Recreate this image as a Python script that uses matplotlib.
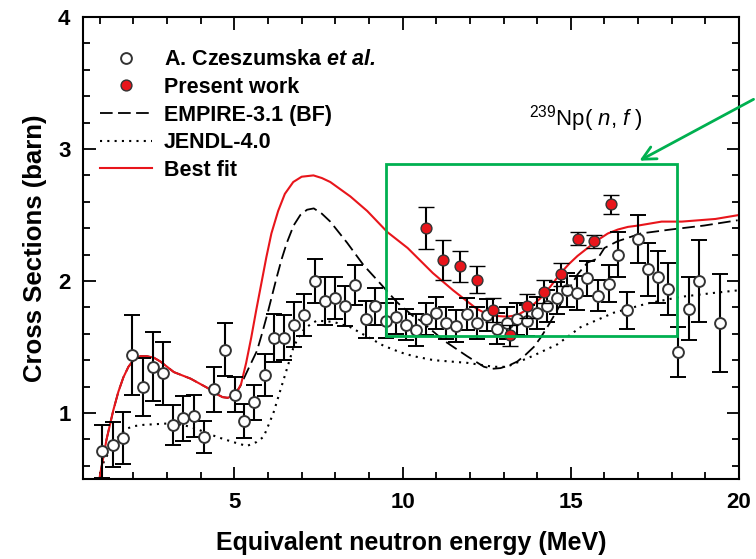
import numpy as np
import matplotlib
matplotlib.use("Agg")
import matplotlib.pyplot as plt
from matplotlib.lines import Line2D
from matplotlib.patches import Rectangle, FancyArrowPatch

plt.rcParams['font.family'] = ['Liberation Sans', 'DejaVu Sans']
plt.rcParams['mathtext.fontset'] = 'custom'
plt.rcParams['mathtext.rm'] = 'Liberation Sans'
plt.rcParams['mathtext.it'] = 'Liberation Sans:italic'
plt.rcParams['mathtext.bf'] = 'Liberation Sans:bold'
plt.rcParams['mathtext.bfit'] = 'Liberation Sans:bold:italic'

# A. Czeszumska et al. (open circles)
cz_e = [1.07, 1.39, 1.69, 1.97, 2.29, 2.58, 2.88, 3.18, 3.48, 3.80, 4.09, 4.40, 4.72,
        5.01, 5.29, 5.59, 5.90, 6.18, 6.48, 6.78, 7.08, 7.40, 7.70, 8.00, 8.30, 8.60,
        8.90, 9.19, 9.50, 9.80, 10.10, 10.40, 10.70, 11.00, 11.30, 11.60, 11.90, 12.20,
        12.50, 12.80, 13.10, 13.40, 13.70, 14.00, 14.30, 14.60, 14.90, 15.19, 15.49,
        15.81, 16.13, 16.40, 16.68, 17.00, 17.29, 17.60, 17.90, 18.19, 18.51, 18.81, 19.43]
cz_xs = [0.71, 0.76, 0.81, 1.44, 1.20, 1.35, 1.30, 0.91, 0.96, 0.98, 0.82, 1.18, 1.48,
         1.14, 0.94, 1.08, 1.29, 1.57, 1.57, 1.67, 1.74, 2.00, 1.85, 1.87, 1.81, 1.97,
         1.71, 1.81, 1.70, 1.73, 1.67, 1.63, 1.71, 1.76, 1.68, 1.66, 1.75, 1.68,
         1.74, 1.64, 1.68, 1.71, 1.70, 1.76, 1.81, 1.87, 1.93, 1.91, 2.02,
         1.89, 1.98, 2.20, 1.78, 2.32, 2.09, 2.03, 1.94, 1.46, 1.79, 2.00, 1.68]
cz_err = [0.20, 0.17, 0.20, 0.30, 0.22, 0.26, 0.24, 0.15, 0.17, 0.16, 0.12, 0.17, 0.20,
          0.13, 0.13, 0.13, 0.16, 0.18, 0.17, 0.17, 0.16, 0.17, 0.18, 0.16, 0.15, 0.15,
          0.14, 0.14, 0.13, 0.13, 0.12, 0.12, 0.12, 0.12, 0.12, 0.12, 0.12, 0.12,
          0.12, 0.12, 0.12, 0.12, 0.12, 0.12, 0.12, 0.12, 0.13, 0.13, 0.13,
          0.12, 0.14, 0.17, 0.14, 0.18, 0.20, 0.20, 0.20, 0.19, 0.24, 0.31, 0.37]

# Present work (red points)
pw_e = [10.7, 11.2, 11.7, 12.2, 12.7, 13.2, 13.7, 14.2, 14.7, 15.2, 15.7, 16.2]
pw_xs = [2.40, 2.16, 2.11, 2.01, 1.78, 1.59, 1.81, 1.92, 2.05, 2.32, 2.30, 2.58]
pw_err = [0.16, 0.15, 0.12, 0.10, 0.09, 0.08, 0.09, 0.09, 0.09, 0.05, 0.05, 0.07]

# Best fit
fit_e = [1.0, 1.2, 1.4, 1.55, 1.7, 1.85, 2.0, 2.2, 2.4, 2.6, 2.8, 3.2, 3.7, 4.2, 4.5,
         4.65, 4.8, 4.95, 5.1, 5.2, 5.35, 5.5, 5.65, 5.8, 5.95, 6.1, 6.3, 6.5, 6.75,
         7.0, 7.35, 7.6, 7.85, 8.45, 8.95, 9.55, 10.15, 10.9, 11.5, 11.9, 12.2, 12.5,
         12.8, 13.1, 13.4, 13.75, 14.1, 14.4, 14.7, 14.95, 15.2, 15.5, 15.8, 16.1,
         16.4, 16.7, 17.0, 17.7, 18.3, 19.3, 20.0]
fit_xs = [0.52, 0.80, 1.02, 1.16, 1.27, 1.35, 1.40, 1.43, 1.43, 1.42, 1.39, 1.31, 1.26,
          1.19, 1.14, 1.12, 1.115, 1.13, 1.17, 1.22, 1.38, 1.57, 1.78, 1.98, 2.18,
          2.36, 2.53, 2.66, 2.75, 2.79, 2.80, 2.78, 2.75, 2.64, 2.53, 2.37, 2.25, 2.06,
          1.93, 1.85, 1.79, 1.75, 1.735, 1.73, 1.74, 1.79, 1.87, 1.96, 2.06, 2.13, 2.19,
          2.25, 2.31, 2.36, 2.39, 2.41, 2.42, 2.45, 2.45, 2.47, 2.50]

# EMPIRE-3.1 (BF)
emp_e = [5.0, 5.17, 5.37, 5.5, 5.67, 5.82, 5.97, 6.12, 6.26, 6.41, 6.56, 6.76, 6.96,
         7.16, 7.36, 7.6, 7.85, 8.35, 8.84, 9.34, 9.83, 10.33, 10.53, 11.22, 11.92,
         12.42, 12.67, 12.91, 13.16, 13.41, 13.65, 13.9, 14.1, 14.3, 14.6, 14.9, 15.2,
         15.5, 15.8, 16.0, 16.38, 17.08, 17.97, 18.96, 19.96]
emp_xs = [1.14, 1.20, 1.31, 1.38, 1.47, 1.60, 1.74, 1.89, 2.03, 2.17, 2.29, 2.42, 2.50,
          2.54, 2.55, 2.51, 2.45, 2.29, 2.12, 1.98, 1.84, 1.73, 1.70, 1.55, 1.43,
          1.35, 1.335, 1.34, 1.36, 1.39, 1.44, 1.50, 1.57, 1.65, 1.78, 1.92, 2.05,
          2.14, 2.17, 2.25, 2.30, 2.36, 2.39, 2.42, 2.46]

# JENDL-4.0
jen_e = [1.1, 1.3, 1.49, 1.65, 1.79, 2.0, 2.29, 2.98, 3.48, 3.87, 4.47, 4.96, 5.37,
         5.66, 5.87, 6.0, 6.16, 6.46, 6.76, 6.9, 7.06, 7.25, 7.45, 7.95, 8.45, 8.94,
         9.43, 9.93, 10.33, 10.93, 11.92, 12.71, 13.1, 13.85, 14.6, 15.29, 16.28,
         17.28, 18.27, 19.26, 20.0]
jen_xs = [0.62, 0.72, 0.80, 0.85, 0.88, 0.90, 0.91, 0.92, 0.91, 0.88, 0.82, 0.78, 0.75,
          0.78, 0.82, 0.90, 1.00, 1.25, 1.50, 1.57, 1.63, 1.67, 1.70, 1.69, 1.65, 1.58,
          1.51, 1.46, 1.43, 1.40, 1.38, 1.35, 1.35, 1.43, 1.52, 1.65, 1.76,
          1.83, 1.88, 1.91, 1.93]

red = '#e8151b'
green = '#00b050'

fig = plt.figure(figsize=(7.56, 5.59), dpi=100)
ax = fig.add_axes([83/756, 1-479/559, 656/756, 462/559])

ax.plot(fit_e[:18], fit_xs[:18], color='black', ls=(0, (7, 3)), lw=1.3, zorder=1)
ax.plot(emp_e, emp_xs, color='black', ls=(0, (7, 3)), lw=1.3, zorder=2)
ax.plot(jen_e, jen_xs, color='black', ls=(0, (1, 2.5)), lw=1.5, zorder=2)
ax.plot(fit_e, fit_xs, color=red, lw=1.5, zorder=2.5)

ax.errorbar(cz_e, cz_xs, yerr=cz_err, fmt='o', ms=7.8, mfc='white', mec='#333333', mew=1.4,
            ecolor='black', elinewidth=1.5, capsize=6, capthick=1.5, zorder=3)
ax.errorbar(pw_e, pw_xs, yerr=pw_err, fmt='o', ms=7.8, mfc=red, mec='#333333', mew=1.0,
            ecolor='black', elinewidth=1.5, capsize=6, capthick=1.5, zorder=4)

ax.set_xlim(0.5, 20)
ax.set_ylim(0.5, 4)
ax.set_xticks([5, 10, 15, 20])
ax.set_xticks(np.arange(1, 20, 1), minor=True)
ax.set_yticks([1, 2, 3, 4])
ax.set_yticks(np.arange(0.6, 4.0, 0.2), minor=True)
ax.tick_params(which='both', direction='in', top=True, right=True, width=1.3)
ax.tick_params(which='major', length=9, labelsize=16, pad=9)
ax.tick_params(which='minor', length=5)
for lab in ax.get_xticklabels() + ax.get_yticklabels():
    lab.set_fontweight('bold')
for sp in ax.spines.values():
    sp.set_linewidth(1.5)

ax.set_xlabel('Equivalent neutron energy (MeV)', fontsize=18, fontweight='bold', labelpad=13)
ax.set_ylabel('Cross Sections (barn)', fontsize=18.5, fontweight='bold', labelpad=8)

handles = [
    Line2D([], [], ls='none', marker='o', ms=7.8, mfc='white', mec='#333333', mew=1.4),
    Line2D([], [], ls='none', marker='o', ms=7.8, mfc=red, mec='#333333', mew=1.0),
    Line2D([], [], color='black', ls=(0, (7, 3)), lw=1.3),
    Line2D([], [], color='black', ls=(0, (1, 2.5)), lw=1.5),
    Line2D([], [], color=red, lw=1.5),
]
labels = [r'A. Czeszumska $\mathbfit{et\ al.}$', 'Present work', 'EMPIRE-3.1 (BF)',
          'JENDL-4.0', 'Best fit']
leg = ax.legend(handles, labels, loc='upper left', bbox_to_anchor=(0.026, 0.93),
                frameon=False, fontsize=15.5, handlelength=2.4, handletextpad=0.55,
                labelspacing=0.31, borderaxespad=0, borderpad=0)
for t in leg.get_texts():
    t.set_fontweight('bold')

ax.text(15.45, 3.23, r'$^{239}$Np( $n$, $f$ )', fontsize=16, ha='center', va='center')

ax.add_patch(Rectangle((9.52, 1.58), 18.15-9.52, 2.89-1.58, fill=False,
                       ec=green, lw=2, zorder=5))
fig.add_artist(FancyArrowPatch(
    (1.0, 1-98/559), (637/756, 1-162/559), transform=fig.transFigure,
    arrowstyle='->', mutation_scale=24, color=green, lw=2))

fig.savefig('out.png', dpi=100)
